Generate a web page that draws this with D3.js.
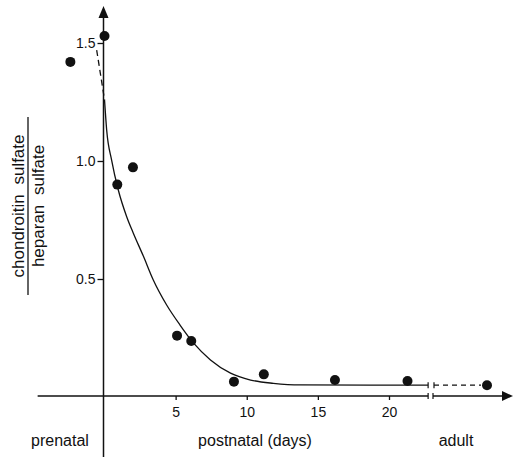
<!DOCTYPE html>
<html>
<head>
<meta charset="utf-8">
<script src="https://cdn.jsdelivr.net/npm/d3@7"></script>
<style>
  body { margin: 0; background: #fff; }
  svg { display: block; font-family: "Liberation Sans", Arial, sans-serif; }
</style>
</head>
<body>
<svg id="chart"></svg>
<script>
// measured points (day after birth, CS/HS ratio)
const days   = [-2.4, 0, 0.9, 2.0, 5.1, 6.1, 9.1, 11.2, 16.2, 21.3];
const ratios = [1.42, 1.53, 0.90, 0.973, 0.26, 0.237, 0.065, 0.096, 0.072, 0.068];
const adultRatio = 0.05;

// fitted curve
const fitDays   = [0, 0.155, 0.5, 0.97, 1.56, 2.02, 2.73, 3.43, 4.37, 5.31, 6.28, 7.45, 8.86, 10.27, 11.87, 13.76, 22.75];
const fitRatios = [1.26, 1.13, 1.004, 0.877, 0.764, 0.695, 0.597, 0.496, 0.39, 0.305, 0.227, 0.157, 0.101, 0.072, 0.058, 0.051, 0.05];

// dashed link from birth value to curve start
const linkDays   = [-0.55, 0];
const linkRatios = [1.47, 1.26];

const xTicks = [5, 10, 15, 20];
const yTicks = [0.5, 1.0, 1.5];

const width = 516, height = 458;
const svg = d3.select('#chart').attr('width', width).attr('height', height);

const x = d3.scaleLinear().domain([0, 20]).range([104.5, 389]);
const y = d3.scaleLinear().domain([0, 1.5]).range([397, 43]);
const xAdult = d3.scalePoint().domain(['adult']).range([433, 541]);

const breakX = x(22.75);   // where the day axis is cut
const gapX = 433;          // where the adult part starts
const axisY = y(0) - 1;
const axisX = x(0) - 1;

const ink = '#111';

// x axis line (two pieces with break marks)
const axes = svg.append('g').attr('stroke', ink).attr('stroke-width', 1.5).attr('fill', 'none');
axes.append('line').attr('x1', x(-4.7)).attr('x2', breakX).attr('y1', axisY).attr('y2', axisY);
axes.append('line').attr('x1', gapX).attr('x2', 505).attr('y1', axisY).attr('y2', axisY);
[breakX, gapX].forEach(bx => {
  axes.append('line').attr('x1', bx).attr('x2', bx).attr('y1', axisY - 3).attr('y2', axisY + 3).attr('stroke-width', 1.2);
});
svg.append('path')
  .attr('d', `M513,${axisY} L502,${axisY - 5} L502,${axisY + 5} Z`)
  .attr('fill', ink);

// y axis line with arrow
axes.append('line').attr('x1', axisX).attr('x2', axisX).attr('y1', 15).attr('y2', 457);
svg.append('path')
  .attr('d', `M${axisX},6 L${axisX - 5},18 L${axisX + 5},18 Z`)
  .attr('fill', ink);

// ticks
const xAxis = svg.append('g')
  .attr('transform', `translate(0,${axisY})`)
  .call(d3.axisBottom(x).tickValues(xTicks).tickSize(4).tickPadding(7).tickFormat(d3.format('d')));
const yAxis = svg.append('g')
  .attr('transform', `translate(${axisX},0)`)
  .call(d3.axisLeft(y).tickValues(yTicks).tickSize(6).tickPadding(2).tickFormat(d3.format('.1f')));
[xAxis, yAxis].forEach(g => {
  g.select('.domain').remove();
  g.selectAll('line').attr('stroke', ink).attr('stroke-width', 1.3);
  g.selectAll('text').attr('fill', ink).style('font-size', '14px').style('font-family', '"Liberation Sans", Arial, sans-serif');
});

// fitted curve
const line = d3.line().x(d => x(d[0])).y(d => y(d[1])).curve(d3.curveMonotoneX);
svg.append('path')
  .datum(d3.zip(fitDays, fitRatios))
  .attr('d', line)
  .attr('fill', 'none').attr('stroke', ink).attr('stroke-width', 1.3);

// end cap on curve at the break
svg.append('line')
  .attr('x1', breakX).attr('x2', breakX)
  .attr('y1', y(0.05) - 3).attr('y2', y(0.05) + 3)
  .attr('stroke', ink).attr('stroke-width', 1.2);

// dashed link near birth
svg.append('path')
  .datum(d3.zip(linkDays, linkRatios))
  .attr('d', d3.line().x(d => x(d[0])).y(d => y(d[1])))
  .attr('fill', 'none').attr('stroke', ink).attr('stroke-width', 1.3)
  .attr('stroke-dasharray', '6,4');

// dashed line to adult value
svg.append('line')
  .attr('x1', gapX + 1).attr('x2', xAdult('adult') - 6)
  .attr('y1', y(adultRatio)).attr('y2', y(adultRatio))
  .attr('stroke', ink).attr('stroke-width', 1.3)
  .attr('stroke-dasharray', '5,4');
svg.append('line')
  .attr('x1', gapX + 1).attr('x2', gapX + 1)
  .attr('y1', y(adultRatio) - 3).attr('y2', y(adultRatio) + 3)
  .attr('stroke', ink).attr('stroke-width', 1.2);

// data points
svg.append('g').selectAll('circle')
  .data(d3.zip(days, ratios))
  .join('circle')
  .attr('cx', d => x(d[0]))
  .attr('cy', d => y(d[1]))
  .attr('r', 5)
  .attr('fill', ink);

svg.append('circle')
  .attr('cx', xAdult('adult'))
  .attr('cy', y(adultRatio))
  .attr('r', 5)
  .attr('fill', ink);

// period labels
const labels = [
  { text: 'prenatal', x: 60 },
  { text: 'postnatal (days)', x: 255 },
  { text: 'adult', x: 456 }
];
svg.append('g').selectAll('text')
  .data(labels)
  .join('text')
  .attr('x', d => d.x)
  .attr('y', 446)
  .attr('text-anchor', 'middle')
  .attr('fill', ink)
  .style('font-size', '16px')
  .text(d => d.text);

// y label as a fraction
const yl = svg.append('g').attr('transform', 'translate(0,206) rotate(-90)');
yl.append('text')
  .attr('x', 0).attr('y', 23.5)
  .attr('text-anchor', 'middle')
  .attr('fill', ink)
  .style('font-size', '17px')
  .style('word-spacing', '5px')
  .text('chondroitin sulfate');
yl.append('line')
  .attr('x1', -89).attr('x2', 89)
  .attr('y1', 28).attr('y2', 28)
  .attr('stroke', ink).attr('stroke-width', 1.3);
yl.append('text')
  .attr('x', 0).attr('y', 44)
  .attr('text-anchor', 'middle')
  .attr('fill', ink)
  .style('font-size', '17px')
  .style('word-spacing', '5px')
  .text('heparan sulfate');
</script>
</body>
</html>
